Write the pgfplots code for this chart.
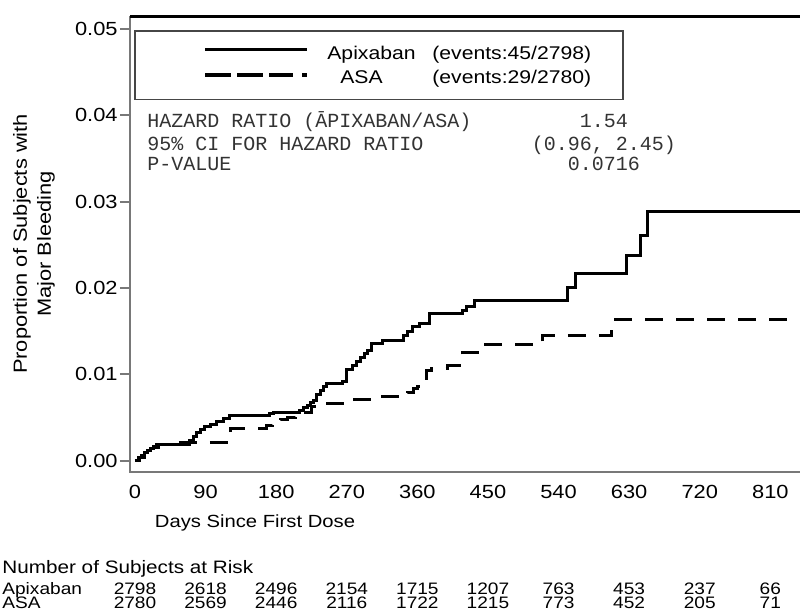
\documentclass[border=0pt]{standalone}
\usepackage{fontspec}
\setmainfont{Liberation Sans}[FakeStretch=1.15]
\newfontfamily\monofont{Liberation Mono}
\usepackage{pgfplots}
\pgfplotsset{compat=1.18}
\definecolor{axisgray}{RGB}{120,120,120}
\definecolor{boxgray}{RGB}{70,70,70}

% Kaplan-Meier style cumulative proportions (step functions)
\pgfplotstableread{
day prop
0 0
4 0.0003
8 0.0006
12 0.0009
16 0.0012
20 0.0014
24 0.0016
28 0.0018
32 0.0019
70 0.0023
74 0.0028
79 0.0032
84 0.0036
88 0.0039
96 0.0042
104 0.0045
113 0.0049
121 0.0052
172 0.0054
176 0.0056
210 0.0058
215 0.0061
220 0.0064
224 0.0067
227 0.0070
232 0.0076
236 0.0081
240 0.0086
244 0.0089
265 0.0091
270 0.0105
277 0.0110
282 0.0115
287 0.0119
292 0.0124
296 0.0128
302 0.0136
316 0.0139
342 0.0145
348 0.0150
354 0.0155
363 0.0159
376 0.0170
418 0.0174
423 0.0178
433 0.0185
552 0.0201
561 0.0217
627 0.0238
644 0.0261
653 0.0288
866 0.0288
}\apixaban

\pgfplotstableread{
day prop
0 0
6 0.0004
12 0.0008
18 0.0012
24 0.0015
30 0.0018
50 0.0021
119 0.0030
122 0.0037
168 0.0041
175 0.0045
185 0.0048
194 0.0050
205 0.0053
215 0.0056
225 0.0062
235 0.0066
280 0.0071
312 0.0074
348 0.0079
355 0.0083
360 0.0086
366 0.0095
372 0.0104
378 0.0107
398 0.0110
418 0.0125
440 0.0134
520 0.0145
608 0.0163
866 0.0163
}\asa

\begin{document}
\begin{tikzpicture}
\useasboundingbox (0,0) rectangle (400pt,-306pt);
\begin{axis}[
  at={(65pt,-236pt)}, anchor=south west,
  scale only axis, width=342.5pt, height=228pt,
  xmin=-6.37, xmax=866.9,
  ymin=-0.001333, ymax=0.051506,
  clip=false,
  axis line style={draw=none},
  xtick={0,90,...,810},
  ytick={0,0.01,0.02,0.03,0.04,0.05},
  yticklabels={0.00,0.01,0.02,0.03,0.04,0.05},
  scaled y ticks=false,
  ytick pos=left, xtick pos=bottom,
  tick align=outside,
  major tick length=5pt,
  xtick style={draw=none},
  ytick style={axisgray, line width=1pt},
  /pgf/number format/assume math mode=true,
  ticklabel style={font=\fontsize{9.5}{11}\selectfont},
  xticklabel style={inner sep=0pt, yshift=-1.5pt},
  yticklabel style={inner sep=1pt},
]
  \draw[axisgray, line width=1.2pt] (rel axis cs:0,1) -- (rel axis cs:0,0) -- (rel axis cs:1,0);
  \draw[black, line width=1.5pt] (rel axis cs:0,1) -- (rel axis cs:1,1);
  \addplot[const plot, black, line width=1.5pt] table[x=day, y=prop] {\apixaban};
  \addplot[const plot, black, line width=1.5pt, dash pattern=on 9pt off 6.5pt] table[x=day, y=prop] {\asa};
\end{axis}

\begin{scope}[x=0.5pt, y=-0.5pt]
  % legend
  \draw[boxgray, line width=0.8pt] (135,30.7) rectangle (622.7,99.3);
  \draw[black, line width=1.6pt] (205,49.3) -- (307,49.3);
  \draw[black, line width=1.6pt, dash pattern=on 13pt off 3pt on 13pt off 3pt on 12pt off 4.5pt on 2.5pt] (205,75) -- (307,75);
  \node[anchor=base, inner sep=0pt, font=\fontsize{9.2}{11}\selectfont] at (371.5,59) {Apixaban};
  \node[anchor=base west, inner sep=0pt, font=\fontsize{9.2}{11}\selectfont] at (432,59) {(events:45/2798)};
  \node[anchor=base, inner sep=0pt, font=\fontsize{9.2}{11}\selectfont] at (361.5,83) {ASA};
  \node[anchor=base west, inner sep=0pt, font=\fontsize{9.2}{11}\selectfont] at (432,83) {(events:29/2780)};

  % hazard ratio block
  \begin{scope}[every node/.style={inner sep=0pt, text=black!80, font=\monofont\fontsize{10}{12}\selectfont}]
    \node[anchor=base west] at (147,127) {HAZARD RATIO (ĀPIXABAN/ASA)};
    \node[anchor=base west] at (147,150) {95\% CI FOR HAZARD RATIO};
    \node[anchor=base west] at (147,170) {P-VALUE};
    \node[anchor=base] at (604,127) {1.54};
    \node[anchor=base] at (604,150) {(0.96, 2.45)};
    \node[anchor=base] at (604,170) {0.0716};
  \end{scope}

  % axis titles
  \node[rotate=90, align=center, font=\fontsize{9.5}{12}\selectfont] at (34,244) {Proportion of Subjects with\\Major Bleeding};
  \node[anchor=base, inner sep=0pt, font=\fontsize{8.8}{11}\selectfont] at (255,527) {Days Since First Dose};

  % number at risk
  \node[anchor=base west, inner sep=0pt, font=\fontsize{9}{11}\selectfont] at (2,573) {Number of Subjects at Risk};
  \node[anchor=base west, inner sep=0pt, font=\fontsize{8.3}{10}\selectfont] at (2,594) {Apixaban};
  \node[anchor=base west, inner sep=0pt, font=\fontsize{8.3}{10}\selectfont] at (2,608.5) {ASA};
  \foreach \d/\a/\b in {0/2798/2780, 90/2618/2569, 180/2496/2446, 270/2154/2116,
                        360/1715/1722, 450/1207/1215, 540/763/773, 630/453/452,
                        720/237/205, 810/66/71} {
    \node[anchor=base, inner sep=0pt, font=\fontsize{8.3}{10}\selectfont] at ({135+\d*0.7844},594) {\a};
    \node[anchor=base, inner sep=0pt, font=\fontsize{8.3}{10}\selectfont] at ({135+\d*0.7844},608.5) {\b};
  }
\end{scope}
\end{tikzpicture}
\end{document}
